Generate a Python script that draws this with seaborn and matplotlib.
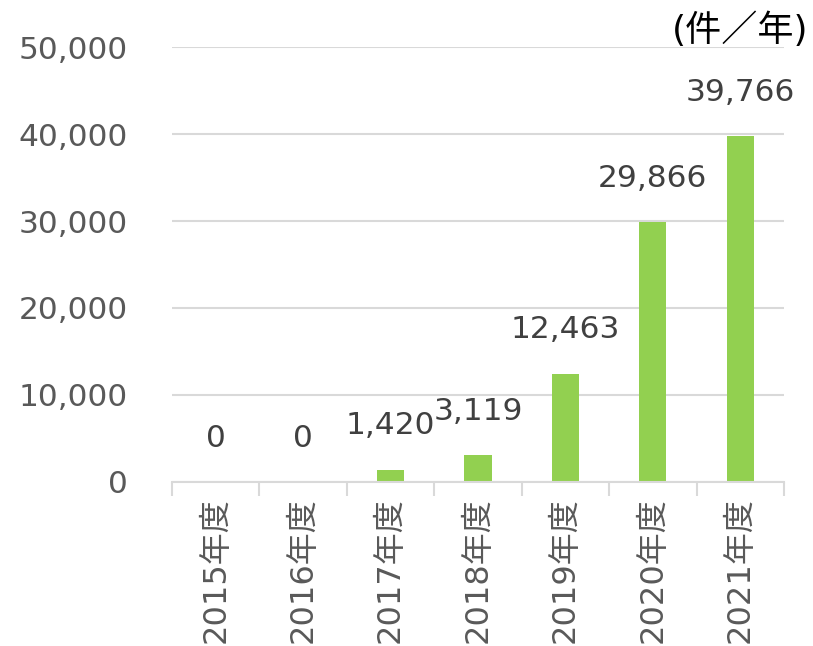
import matplotlib
matplotlib.use("Agg")
import matplotlib.pyplot as plt
import seaborn as sns
import pandas as pd
import numpy as np
from matplotlib.ticker import FixedLocator, FuncFormatter

categories = ["2015年度", "2016年度", "2017年度", "2018年度", "2019年度", "2020年度", "2021年度"]
values = [0, 0, 1420, 3119, 12463, 29866, 39766]
yticks = [0, 10000, 20000, 30000, 40000, 50000]
unit_label = "(件／年)"

sns.set_theme(style="white")
plt.rcParams['font.family'] = ['DejaVu Sans', 'Noto Sans CJK JP']

df = pd.DataFrame({"year": categories, "count": values})

fig = plt.figure(figsize=(8.13, 6.46), dpi=100)
ax = fig.add_axes([0.2116, 0.2539, 0.7527, 0.6733])

sns.barplot(data=df, x="year", y="count", color="#92D050", width=0.31,
            saturation=1, linewidth=0, ax=ax)

ax.set_ylim(0, 50000)
ax.set_xlim(-0.5, len(categories) - 0.5)
ax.set_yticks(yticks)
ax.yaxis.set_major_formatter(FuncFormatter(lambda v, p: f"{int(v):,}"))
ax.yaxis.grid(True, color="#D9D9D9", linewidth=1.5)
ax.set_axisbelow(True)
ax.tick_params(axis='y', length=0, pad=32, labelsize=22.5, labelcolor="#595959")
ax.tick_params(axis='x', which='major', length=0, pad=11, labelsize=23,
               labelcolor="#595959", rotation=90)
ax.xaxis.set_minor_locator(FixedLocator(np.arange(-0.5, len(categories), 1.0)))
ax.tick_params(axis='x', which='minor', length=10, width=1.5, color="#D9D9D9",
               direction='out', bottom=True)
for lab in ax.get_xticklabels():
    lab.set_verticalalignment('top')

for s in ["left", "right", "top"]:
    ax.spines[s].set_visible(False)
ax.spines["bottom"].set_color("#D9D9D9")
ax.spines["bottom"].set_linewidth(1.5)

ax.set_xlabel("")
ax.set_ylabel("")

for i, v in enumerate(values):
    ax.annotate(f"{v:,}", xy=(i, v), xytext=(0, 31.5), textcoords="offset points",
                ha="center", va="center", fontsize=22.5, color="#404040")

fig.text(0.994, 0.953, unit_label, ha="right", va="center", fontsize=26,
         color="#000000")

fig.savefig("out.png", dpi=100)
